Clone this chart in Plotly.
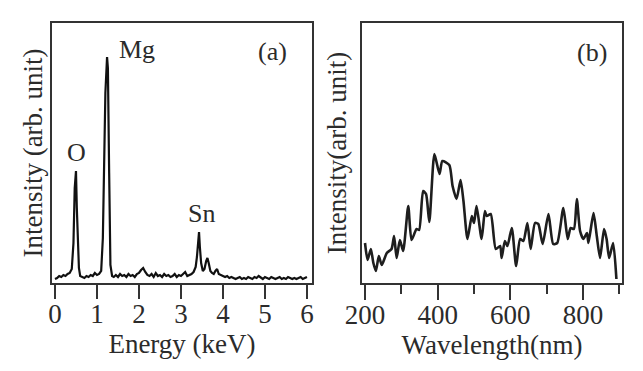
import plotly.graph_objects as go
from plotly.subplots import make_subplots

# ---- Panel (a): EDX spectrum ----
energy_kev = [0.00, 0.05, 0.10, 0.15, 0.20, 0.25, 0.30, 0.35, 0.40, 0.44,
              0.47, 0.50, 0.52, 0.54, 0.57, 0.60, 0.65, 0.70, 0.75, 0.80,
              0.85, 0.90, 0.95, 1.00, 1.05, 1.10, 1.14, 1.17, 1.20, 1.24,
              1.26, 1.29, 1.32, 1.36, 1.40, 1.45, 1.50, 1.55, 1.60, 1.65,
              1.70, 1.75, 1.80, 1.85, 1.90, 1.95, 2.00, 2.05, 2.10, 2.15,
              2.20, 2.25, 2.30, 2.35, 2.40, 2.45, 2.50, 2.55, 2.60, 2.65,
              2.70, 2.75, 2.80, 2.85, 2.90, 2.95, 3.00, 3.05, 3.10, 3.15,
              3.20, 3.25, 3.30, 3.35, 3.38, 3.41, 3.43, 3.45, 3.48, 3.52,
              3.56, 3.60, 3.63, 3.66, 3.70, 3.74, 3.78, 3.82, 3.86, 3.90,
              3.95, 4.00, 4.05, 4.10, 4.15, 4.20, 4.25, 4.30, 4.35, 4.40,
              4.45, 4.50, 4.55, 4.60, 4.65, 4.70, 4.75, 4.80, 4.85, 4.90,
              4.95, 5.00, 5.05, 5.10, 5.15, 5.20, 5.25, 5.30, 5.35, 5.40,
              5.45, 5.50, 5.55, 5.60, 5.65, 5.70, 5.75, 5.80, 5.85, 5.90,
              5.95, 6.00]
edx_counts = [4, 5, 7, 6, 8, 7, 9, 10, 14, 40,
              95, 112, 75, 40, 15, 7, 6, 5, 7, 6,
              8, 7, 10, 8, 9, 12, 45, 120, 190, 226,
              215, 110, 18, 7, 6, 8, 6, 9, 7, 8,
              6, 9, 7, 8, 6, 9, 10, 13, 15, 11,
              8, 7, 9, 6, 10, 7, 8, 6, 9, 7,
              8, 6, 7, 9, 6, 8, 7, 9, 11, 7,
              8, 9, 11, 16, 26, 44, 51, 36, 20, 12,
              14, 22, 25, 20, 12, 10, 9, 12, 14, 9,
              8, 7, 6, 7, 5, 6, 5, 4, 5, 6,
              4, 5, 4, 6, 5, 4, 6, 5, 7, 5,
              4, 6, 5, 4, 6, 5, 4, 5, 6, 4,
              5, 4, 6, 5, 4, 5, 4, 5, 6, 4,
              5, 6]

# ---- Panel (b): PL spectrum ----
wavelength_nm = [200, 207, 216, 223, 230, 238, 246, 260, 273, 280,
                 287, 296, 305, 319, 328, 342, 349, 360, 368, 377,
                 391, 405, 413, 432, 441, 452, 463, 471, 482, 494,
                 500, 507, 521, 530, 535, 546, 560, 572, 576, 585,
                 592, 604, 616, 627, 636, 647, 656, 668, 677, 689,
                 705, 718, 729, 746, 758, 766, 775, 783, 792, 801,
                 811, 815, 829, 838, 847, 858, 865, 872, 883, 892]
pl_intensity = [40, 23, 34, 20, 12, 27, 18, 30, 34, 47,
                25, 43, 32, 77, 43, 54, 53, 92, 89, 61,
                129, 109, 122, 118, 97, 84, 103, 82, 44, 67,
                60, 77, 44, 72, 67, 69, 34, 37, 25, 42,
                37, 55, 17, 44, 42, 60, 34, 60, 59, 39,
                69, 39, 40, 75, 44, 55, 54, 84, 52, 44,
                50, 40, 70, 47, 25, 54, 44, 25, 40, 4]

a_xticks = [0, 1, 2, 3, 4, 5, 6]
b_xticks = [200, 400, 600, 800]

FONT = "Liberation Serif"
TXT = "#2b2b2b"
FS = 27

# page body has an 8px margin: lay out in a 635x363 canvas offset by 8px
W, H, OFF = 635, 363, 8


def dx(px):
    return (px - OFF) / W


def dy(py):
    return 1 - (py - OFF) / H


fig = make_subplots(rows=1, cols=2)

fig.add_trace(go.Scatter(x=energy_kev, y=edx_counts, mode="lines",
                         line=dict(color="#111111", width=2.2),
                         showlegend=False), row=1, col=1)
fig.add_trace(go.Scatter(x=wavelength_nm, y=pl_intensity, mode="lines",
                         line=dict(color="#1e1e1e", width=2.6, shape="spline",
                                   smoothing=0.6),
                         showlegend=False), row=1, col=2)

ydom = [dy(283), dy(23)]
common_x = dict(showline=True, mirror=True, linecolor="#333333", linewidth=1.8,
                ticks="outside", tickcolor="#333333", tickwidth=1.8,
                showgrid=False, zeroline=False, automargin=False,
                ticklabelstandoff=-8,
                tickfont=dict(family=FONT, size=FS, color=TXT),
                title_font=dict(family=FONT, size=FS, color=TXT))
common_y = dict(showline=True, mirror=True, linecolor="#333333", linewidth=1.8,
                ticks="", showticklabels=False, showgrid=False, zeroline=False,
                automargin=False, range=[0, 260], domain=ydom,
                title_font=dict(family=FONT, size=FS, color=TXT))

fig.update_xaxes(**common_x, domain=[dx(52), dx(312)], range=[-0.071, 6.12],
                 tickvals=a_xticks, ticklen=14,
                 title=dict(text="Energy (keV)", standoff=0), row=1, col=1)
fig.update_xaxes(**common_x, domain=[dx(362), dx(622)], range=[191.7, 907.4],
                 tickvals=b_xticks, ticklen=15,
                 minor=dict(tickvals=[300, 500, 700, 900], ticklen=9,
                            ticks="outside", tickcolor="#333333", tickwidth=1.8),
                 title=dict(text="Wavelength(nm)", standoff=0), row=1, col=2)
fig.update_yaxes(**common_y, title=dict(text="Intensity (arb. unit)", standoff=0),
                 row=1, col=1)
fig.update_yaxes(**common_y, title=dict(text="Intensity(arb. unit)", standoff=6),
                 row=1, col=2)

ann_font = dict(family=FONT, size=26, color=TXT)
fig.add_annotation(x=1.48, y=233, xref="x", yref="y", text="Mg", showarrow=False,
                   xanchor="left", font=ann_font)
fig.add_annotation(x=0.52, y=131, xref="x", yref="y", text="O", showarrow=False,
                   font=ann_font)
fig.add_annotation(x=3.48, y=70, xref="x", yref="y", text="Sn", showarrow=False,
                   font=ann_font)
fig.add_annotation(x=5.17, y=231, xref="x", yref="y", text="(a)", showarrow=False,
                   font=ann_font)
fig.add_annotation(x=825, y=230, xref="x2", yref="y2", text="(b)", showarrow=False,
                   font=ann_font)

fig.update_layout(width=W, height=H, margin=dict(l=0, r=0, t=0, b=0),
                  paper_bgcolor="white", plot_bgcolor="white")

fig.write_html("out.html")
